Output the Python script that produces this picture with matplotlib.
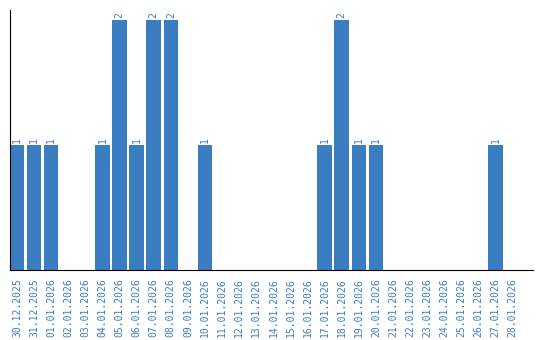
#!/usr/bin/env python3
"""Daily counts bar chart, 30.12.2025 - 28.01.2026."""

import matplotlib

matplotlib.use("Agg")
import matplotlib.pyplot as plt

dates = [
    "30.12.2025", "31.12.2025", "01.01.2026", "02.01.2026", "03.01.2026",
    "04.01.2026", "05.01.2026", "06.01.2026", "07.01.2026", "08.01.2026",
    "09.01.2026", "10.01.2026", "11.01.2026", "12.01.2026", "13.01.2026",
    "14.01.2026", "15.01.2026", "16.01.2026", "17.01.2026", "18.01.2026",
    "19.01.2026", "20.01.2026", "21.01.2026", "22.01.2026", "23.01.2026",
    "24.01.2026", "25.01.2026", "26.01.2026", "27.01.2026", "28.01.2026",
]
counts = [1, 1, 1, 0, 0, 1, 2, 1, 2, 2,
          0, 1, 0, 0, 0, 0, 0, 0, 1, 2,
          1, 1, 0, 0, 0, 0, 0, 0, 1, 0]

BLUE = "#3b7dc1"

fig = plt.figure(figsize=(5.4, 3.4), dpi=100)
ax = fig.add_axes([10 / 540, 70 / 340, 523 / 540, 260 / 340])

x = list(range(len(dates)))
ax.bar(x, counts, width=0.85, color=BLUE)

for xi, c in zip(x, counts):
    if c > 0:
        ax.text(xi, c + 0.02, str(c), rotation=90, ha="center", va="bottom",
                color=BLUE, fontsize=7, family="DejaVu Sans Mono")

ax.set_xlim(-0.41, 30.19)
ax.set_ylim(0, 2.08)
ax.set_xticks(x)
ax.set_xticklabels(dates, rotation=90, color=BLUE, fontsize=7,
                   family="DejaVu Sans Mono")
ax.tick_params(axis="x", length=0, pad=6)
ax.set_yticks([])

for side in ("top", "right"):
    ax.spines[side].set_visible(False)
ax.spines["left"].set_color("black")
ax.spines["bottom"].set_color("black")

fig.savefig("out.png", dpi=100)
